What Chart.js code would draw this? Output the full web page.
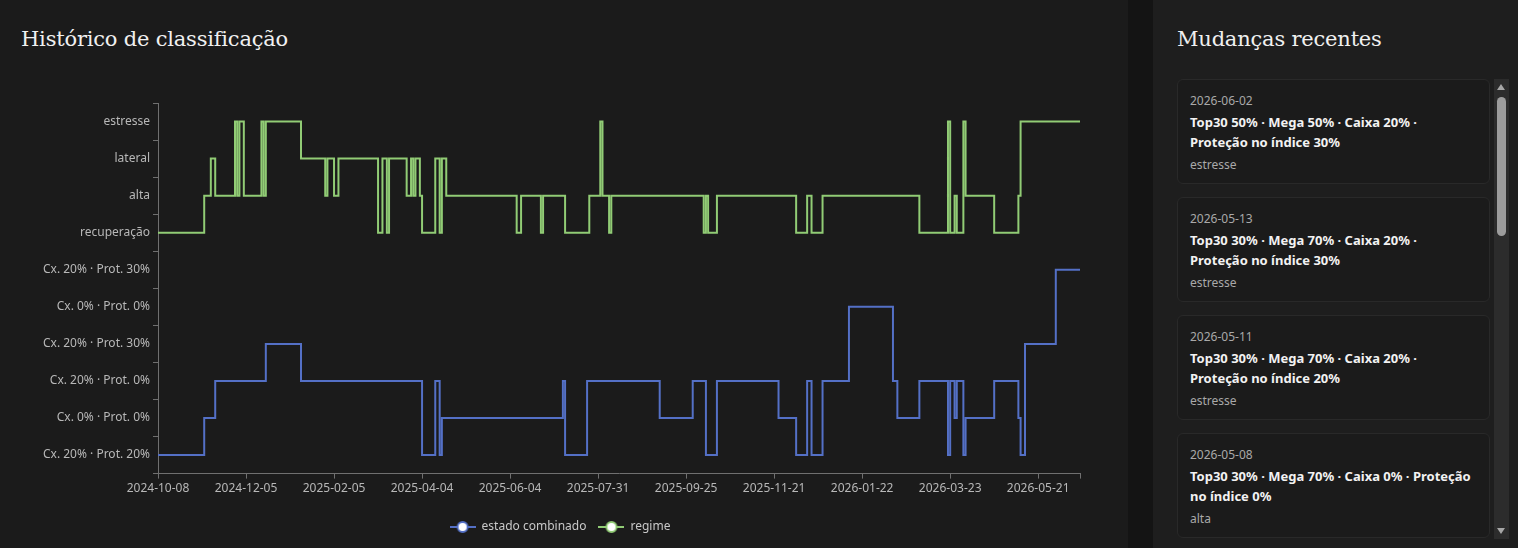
<!DOCTYPE html>
<html lang="pt">
<head>
<meta charset="utf-8">
<script src="https://cdn.jsdelivr.net/npm/chart.js@4.4.1/dist/chart.umd.min.js"></script>
<style>
  html, body { margin: 0; padding: 0; }
  body { width: 1518px; height: 548px; overflow: hidden; background: #141414; position: relative; font-family: "Noto Sans", "Open Sans", sans-serif; }
  #left { position: absolute; left: 0; top: 0; width: 1128px; height: 548px; background: #1b1b1b; }
  #right { position: absolute; left: 1153px; top: 0; width: 365px; height: 548px; background: #1e1e1e; }
  h2 { position: absolute; margin: 0; font-family: "DejaVu Serif", "Liberation Serif", serif; font-weight: normal; font-size: 21px; color: #f0f0f0; line-height: 30px; letter-spacing: -0.2px; }
  #left h2 { left: 21px; top: 24px; }
  #right h2 { left: 24px; top: 24px; }
  #chartBox { position: absolute; left: 0; top: 70px; width: 1120px; height: 478px; }
  #list { position: absolute; left: 24px; top: 79px; width: 313px; height: 461px; overflow: hidden; }
  .card { box-sizing: border-box; width: 313px; background: #1b1b1b; border: 1px solid #292929; border-radius: 6px; padding: 13px 12px 9px 12px; margin-bottom: 13px; }
  .d { font-size: 12px; line-height: 16px; color: #a9a9a9; }
  .t { font-size: 13px; line-height: 20px; color: #f2f2f2; font-weight: 700; margin-top: 3px; }
  .g { font-size: 12px; line-height: 18px; color: #a9a9a9; margin-top: 4px; }
  #track { position: absolute; left: 341px; top: 79px; width: 15px; height: 460px; background: #2c2c2c; }
  #thumb { position: absolute; left: 3px; top: 18px; width: 9px; height: 139px; background: #9c9c9c; border-radius: 5px; }
  .arrow { position: absolute; left: 3px; width: 0; height: 0; border-left: 4.5px solid transparent; border-right: 4.5px solid transparent; }
  #up { top: 5px; border-bottom: 6px solid #a6a6a6; }
  #down { bottom: 5px; border-top: 6px solid #a6a6a6; }
</style>
</head>
<body>
<div id="left">
  <h2>Histórico de classificação</h2>
  <div id="chartBox"><canvas id="c"></canvas></div>
</div>
<div id="right">
  <h2>Mudanças recentes</h2>
  <div id="list"></div>
  <div id="track"><div class="arrow" id="up"></div><div id="thumb"></div><div class="arrow" id="down"></div></div>
</div>
<script>
// ---- data ----
const levelLabels = ['Cx. 20% · Prot. 20%', 'Cx. 0% · Prot. 0%', 'Cx. 20% · Prot. 0%', 'Cx. 20% · Prot. 30%', 'Cx. 0% · Prot. 0%', 'Cx. 20% · Prot. 30%', 'recuperação', 'alta', 'lateral', 'estresse'];
const xTickDays = [0, 40, 80, 120, 160, 200, 240, 280, 320, 360, 400, 419];
const xTickLabels = ['2024-10-08', '2024-12-05', '2025-02-05', '2025-04-04', '2025-06-04', '2025-07-31', '2025-09-25', '2025-11-21', '2026-01-22', '2026-03-23', '2026-05-21', ''];
const lastDay = 419;

const regimeDays   = [0,21,24,26,35,36,37,39,47,48,49,65,76,77,80,82,100,102,104,105,113,115,116,117,119,120,126,128,129,131,163,165,174,175,185,196,201,202,205,206,248,249,250,254,290,295,297,302,346,359,360,362,363,366,367,380,391,392,419];
const regimeLevels = [6,7,8,7,9,7,9,7,9,7,9,8,7,8,7,8,6,8,6,8,7,8,7,8,7,6,8,6,8,7,6,7,6,7,6,7,9,7,6,7,6,7,6,7,6,7,6,7,6,9,6,7,6,9,7,6,7,9,9];

const stateDays   = [0,21,26,49,65,120,126,128,129,184,185,195,228,243,249,254,282,290,295,297,302,314,334,336,346,359,360,362,363,366,367,380,391,392,394,408,419];
const stateLevels = [0,1,2,3,2,0,2,0,1,2,0,2,1,2,0,2,1,0,2,0,2,4,2,1,2,0,2,1,2,0,1,2,1,0,3,5,5];

const seriesNames = ['estado combinado', 'regime'];
const seriesColors = ['#5470c6', '#91cc75'];

const changeDates = ['2026-06-02', '2026-05-13', '2026-05-11', '2026-05-08'];
const changeTexts = [
  'Top30 50% · Mega 50% · Caixa 20% · Proteção no índice 30%',
  'Top30 30% · Mega 70% · Caixa 20% · Proteção no índice 30%',
  'Top30 30% · Mega 70% · Caixa 20% · Proteção no índice 20%',
  'Top30 30% · Mega 70% · Caixa 0% · Proteção no índice 0%'
];
const changeRegimes = ['estresse', 'estresse', 'estresse', 'alta'];

// ---- list ----
const list = document.getElementById('list');
changeDates.forEach((d, i) => {
  const c = document.createElement('div');
  c.className = 'card';
  c.innerHTML = '<div class="d">' + d + '</div><div class="t">' + changeTexts[i] + '</div><div class="g">' + changeRegimes[i] + '</div>';
  list.appendChild(c);
});

// ---- chart ----
function legendIcon(color) {
  const cv = document.createElement('canvas');
  cv.width = 26; cv.height = 14;
  const x = cv.getContext('2d');
  x.strokeStyle = color; x.lineWidth = 2;
  x.beginPath(); x.moveTo(0, 7); x.lineTo(26, 7); x.stroke();
  x.beginPath(); x.arc(13, 7, 5, 0, Math.PI * 2);
  x.fillStyle = '#ffffff'; x.fill(); x.lineWidth = 1.8; x.stroke();
  return cv;
}
function pts(days, levels) { return days.map((d, i) => ({ x: d, y: levels[i] })); }

Chart.defaults.font.family = '"Noto Sans", "Open Sans", sans-serif';
Chart.defaults.font.size = 12;
Chart.defaults.color = '#b8b8b8';

new Chart(document.getElementById('c'), {
  type: 'line',
  data: {
    datasets: [
      { label: seriesNames[0], data: pts(stateDays, stateLevels), borderColor: seriesColors[0], backgroundColor: seriesColors[0], borderWidth: 2, stepped: 'before', pointRadius: 0, pointHoverRadius: 0, pointStyle: legendIcon(seriesColors[0]) },
      { label: seriesNames[1], data: pts(regimeDays, regimeLevels), borderColor: seriesColors[1], backgroundColor: seriesColors[1], borderWidth: 2, stepped: 'before', pointRadius: 0, pointHoverRadius: 0, pointStyle: legendIcon(seriesColors[1]) }
    ]
  },
  options: {
    responsive: true,
    maintainAspectRatio: false,
    animation: false,
    layout: { padding: { left: 40, right: 40, top: 33, bottom: 5 } },
    plugins: {
      legend: {
        position: 'bottom',
        labels: { usePointStyle: true, pointStyleWidth: 26, boxHeight: 12, padding: 12, color: '#c8c8c8', font: { size: 12 } }
      },
      tooltip: { enabled: false }
    },
    scales: {
      x: {
        type: 'linear', min: 0, max: lastDay,
        afterBuildTicks: s => { s.ticks = xTickDays.map(v => ({ value: v })); },
        afterFit: s => { s.height += 10; },
        ticks: { autoSkip: false, maxRotation: 0, padding: 3, color: '#b8b8b8', callback: (v) => { const i = xTickDays.indexOf(v); return i >= 0 ? xTickLabels[i] : ''; } },
        grid: { drawOnChartArea: false, color: '#707070', tickLength: 5 },
        border: { color: '#707070' }
      },
      y: {
        type: 'linear', min: -0.5, max: 9.5,
        afterBuildTicks: s => { s.ticks = levelLabels.map((_, i) => ({ value: i })); },
        afterFit: s => { s.width = 118; },
        ticks: { padding: 3, color: '#b8b8b8', callback: (v) => levelLabels[v] },
        grid: { offset: true, drawOnChartArea: false, color: '#707070', tickLength: 5 },
        border: { color: '#707070' }
      }
    }
  }
});
</script>
</body>
</html>
